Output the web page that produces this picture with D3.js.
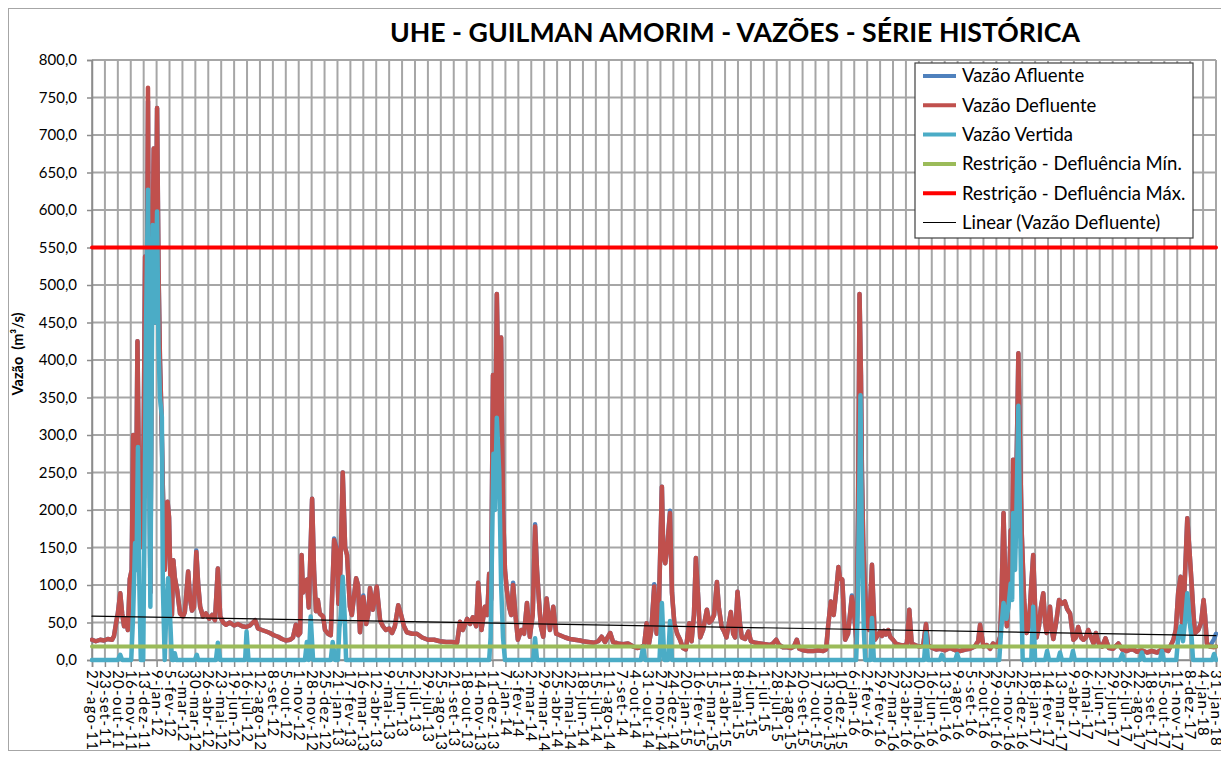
<!DOCTYPE html>
<html>
<head>
<meta charset="utf-8">
<script src="https://cdn.jsdelivr.net/npm/d3@7"></script>
<style>
  body { margin: 0; background: #fff; }
  text { font-family: Lato, "Liberation Sans", sans-serif; fill: #000; }
</style>
</head>
<body>
<div id="chart"></div>
<script>
// ---- dados ----
var inicio = "2011-08-27";
var fim = "2018-01-31";
var passoRotulos = 27;   // dias entre rótulos do eixo x
var meses = ["jan", "fev", "mar", "abr", "mai", "jun", "jul", "ago", "set", "out", "nov", "dez"];
var yTicks = [0, 50, 100, 150, 200, 250, 300, 350, 400, 450, 500, 550, 600, 650, 700, 750, 800];

var restricaoMin = 18;
var restricaoMax = 550;
var tendencia = [58.5, 32.5];   // linear (vazão defluente): início e fim

// [dia desde o início, m³/s]
var defluente = [
  [0,27],[8,25],[17,27],[25,26],[33,28],[42,27],[46,32],[50,48],[54,62],[59,89],[63,62],[67,45],[71,55],[75,40],[79,108],[83,120],[86,300],[89,160],[92,200],[95,425],[98,250],[101,150],[105,200],[108,300],[111,538],[114,400],[117,763],[120,300],[122,90],[125,462],[129,682],[132,450],[136,736],[139,520],[142,400],[145,330],[148,230],[152,120],[155,170],[158,211],[161,190],[164,100],[167,60],[170,133],[173,110],[178,93],
  [184,62],[190,58],[194,64],[201,118],[205,81],[209,66],[213,70],[218,144],[222,100],[226,71],[232,58],[238,62],[245,55],[251,60],[257,53],[263,122],[268,58],[274,50],[280,47],[288,50],[297,46],[305,48],[314,45],[322,44],[330,46],[341,53],[347,42],[355,40],[364,38],[372,36],[380,33],[389,31],[397,28],[405,26],[414,27],
  [420,30],[426,47],[431,33],[435,36],[438,140],[441,90],[445,105],[449,107],[453,70],[460,215],[464,120],[468,65],[472,80],[476,62],[483,58],[487,40],[493,35],[499,33],[506,160],[511,147],[515,75],[519,120],[524,250],[529,150],[533,140],[539,71],[543,60],[552,109],[556,100],[560,37],[567,84],[573,48],[577,60],[581,96],[587,67],[595,98],[602,53],[608,45],[614,40],[621,42],[627,36],[633,45],[640,73],[646,60],[652,45],[658,37],[669,35],[679,35],[690,30],[702,27],[715,27],[727,25],[740,24],[752,24],[763,23],[769,51],[775,40],[784,55],[790,48],[796,57],[803,45],[807,103],[814,40],[821,71],[826,60],[830,115],[834,80],[838,380],[842,250],[846,488],[851,300],[855,430],[859,200],[863,120],[867,93],[872,70],[876,60],[880,100],[885,60],[890,27],[897,40],[903,35],[909,76],[915,31],[921,60],[926,178],[930,120],[934,80],[938,45],[943,31],[950,82],[957,40],[964,71],[970,35],[978,33],[989,30],[999,28],[1009,27],[1020,26],
  [1026,25],[1037,24],[1049,23],[1058,25],[1065,31],[1072,24],[1083,36],[1089,24],[1099,22],[1110,21],[1120,22],[1131,18],[1139,16],[1147,17],[1154,20],[1159,49],[1164,22],[1169,40],[1175,98],[1180,35],[1185,80],[1191,231],[1194,140],[1198,129],[1202,150],[1208,196],[1212,90],[1217,49],[1223,35],[1229,27],[1235,16],[1241,14],[1248,49],[1253,25],[1258,60],[1262,136],[1267,80],[1271,30],[1277,40],[1285,67],[1290,50],[1295,53],[1300,60],[1306,104],[1310,70],[1316,44],[1321,38],[1326,30],[1335,64],[1340,35],[1344,30],[1349,91],[1354,50],[1358,30],[1365,28],[1372,38],[1377,25],[1386,23],[1396,22],[1407,21],[1417,20],[1423,22],[1430,27],[1436,20],[1444,17],[1453,17],[1461,16],[1467,18],[1473,27],[1478,15],[1486,13],[1496,12],[1507,12],[1517,13],[1528,12],[1534,14],[1539,49],[1544,78],[1550,60],[1555,90],[1560,124],[1563,110],[1568,107],[1574,27],[1580,35],[1588,84],[1593,60],[1598,22],[1601,200],[1604,488],[1607,380],[1609,250],[1612,149],[1615,100],[1619,53],[1624,40],[1630,127],[1636,27],
  [1642,33],[1647,38],[1651,32],[1655,39],[1659,34],[1664,40],[1668,31],[1674,27],[1680,22],[1689,20],[1697,19],[1703,22],[1708,67],[1713,22],[1720,20],[1728,18],[1737,19],[1743,48],[1747,20],[1756,16],[1764,14],[1772,15],[1783,13],[1793,16],[1804,13],[1814,12],[1825,14],[1835,15],[1845,18],[1852,25],[1856,47],[1863,18],[1870,20],[1877,15],[1883,22],[1891,18],[1898,31],[1901,90],[1905,196],[1908,120],[1912,45],[1915,80],[1920,173],[1923,140],[1925,267],[1929,150],[1932,250],[1936,409],[1939,300],[1943,169],[1948,80],[1953,36],[1958,45],[1962,90],[1967,140],[1971,70],[1974,30],[1979,45],[1983,70],[1988,89],[1992,50],[1995,36],[1999,50],[2002,71],[2006,40],[2009,28],[2015,50],[2021,80],[2027,75],[2033,78],[2038,68],[2044,62],[2051,27],[2056,30],[2061,44],[2067,30],[2072,27],[2077,30],[2082,40],[2088,30],[2093,22],[2098,36],[2104,22],[2111,18],[2118,29],[2125,16],[2134,15],[2145,22],[2153,14],[2163,12],[2174,15],[2184,11],[2194,13],[2205,10],[2215,12],[2226,10],[2238,15],[2249,12],[2260,27],[2265,40],[2270,90],[2275,111],[2277,60],[2280,40],[2284,110],[2289,189],[2293,151],[2298,102],[2302,60],[2305,36],[2312,40],[2318,50],[2323,80],[2326,60],[2330,22],[2336,18],[2345,17],[2349,18]
];

var afluente = [
  [0,27],[8,25],[17,27],[25,26],[33,28],[42,27],[46,32],[50,48],[54,62],[59,89],[63,62],[67,45],[71,55],[75,40],[79,108],[83,120],[86,300],[89,160],[92,200],[95,425],[98,250],[101,150],[105,200],[108,300],[111,538],[114,400],[117,745],[120,300],[122,90],[125,462],[129,682],[132,450],[136,736],[139,520],[142,400],[145,330],[148,230],[152,120],[155,170],[158,211],[161,190],[164,100],[167,60],[170,133],[173,110],[178,93],
  [184,62],[190,58],[194,64],[201,118],[205,81],[209,66],[213,70],[218,146],[222,100],[226,71],[232,58],[238,62],[245,55],[251,60],[257,53],[263,122],[268,58],[274,50],[280,47],[288,50],[297,46],[305,48],[314,45],[322,44],[330,46],[341,53],[347,42],[355,40],[364,38],[372,36],[380,33],[389,31],[397,28],[405,26],[414,27],
  [420,30],[426,47],[431,33],[435,36],[438,140],[441,90],[445,105],[449,107],[453,70],[460,215],[464,120],[468,65],[472,80],[476,62],[483,58],[487,40],[493,35],[499,33],[506,162],[511,150],[515,75],[519,120],[524,250],[529,150],[533,140],[539,71],[543,60],[552,109],[556,100],[560,37],[567,86],[573,48],[577,60],[581,96],[587,67],[595,98],[602,53],[608,45],[614,40],[621,42],[627,36],[633,45],[640,73],[646,60],[652,45],[658,37],[669,35],[679,35],[690,30],[702,27],[715,27],[727,25],[740,24],[752,24],[763,23],[769,51],[775,40],[784,55],[790,48],[796,57],[803,45],[807,103],[814,40],[821,71],[826,60],[830,115],[834,80],[838,380],[842,250],[846,488],[851,300],[855,430],[859,200],[863,120],[867,93],[872,70],[876,60],[880,103],[885,60],[890,27],[897,40],[903,35],[909,76],[915,31],[921,60],[926,181],[930,120],[934,80],[938,45],[943,31],[950,82],[957,40],[964,71],[970,35],[978,33],[989,30],[999,28],[1009,27],[1020,26],
  [1026,25],[1037,24],[1049,23],[1058,25],[1065,31],[1072,24],[1083,36],[1089,24],[1099,22],[1110,21],[1120,22],[1131,18],[1139,16],[1147,17],[1154,20],[1159,49],[1164,22],[1169,40],[1175,101],[1180,35],[1185,80],[1191,231],[1194,140],[1198,129],[1202,150],[1208,199],[1212,90],[1217,49],[1223,35],[1229,27],[1235,16],[1241,14],[1248,49],[1253,25],[1258,60],[1262,136],[1267,80],[1271,30],[1277,40],[1285,67],[1290,50],[1295,53],[1300,60],[1306,104],[1310,70],[1316,44],[1321,38],[1326,30],[1335,64],[1340,35],[1344,30],[1349,91],[1354,50],[1358,30],[1365,28],[1372,38],[1377,25],[1386,23],[1396,22],[1407,21],[1417,20],[1423,22],[1430,27],[1436,20],[1444,17],[1453,17],[1461,16],[1467,18],[1473,27],[1478,15],[1486,13],[1496,12],[1507,12],[1517,13],[1528,12],[1534,14],[1539,49],[1544,78],[1550,60],[1555,90],[1560,124],[1563,110],[1568,107],[1574,27],[1580,35],[1588,86],[1593,60],[1598,22],[1601,200],[1604,488],[1607,380],[1609,250],[1612,149],[1615,100],[1619,53],[1624,40],[1630,127],[1636,27],
  [1642,33],[1647,38],[1651,32],[1655,39],[1659,34],[1664,40],[1668,31],[1674,27],[1680,22],[1689,20],[1697,19],[1703,22],[1708,67],[1713,22],[1720,20],[1728,18],[1737,19],[1743,48],[1747,20],[1756,16],[1764,14],[1772,15],[1783,13],[1793,16],[1804,13],[1814,12],[1825,14],[1835,15],[1845,18],[1852,25],[1856,47],[1863,18],[1870,20],[1877,15],[1883,22],[1891,18],[1898,31],[1901,90],[1905,196],[1908,120],[1912,45],[1915,80],[1920,173],[1923,140],[1925,267],[1929,150],[1932,250],[1936,409],[1939,300],[1943,169],[1948,80],[1953,36],[1958,45],[1962,90],[1967,140],[1971,70],[1974,30],[1979,45],[1983,70],[1988,89],[1992,50],[1995,36],[1999,50],[2002,71],[2006,40],[2009,28],[2015,50],[2021,80],[2027,75],[2033,78],[2038,68],[2044,62],[2051,27],[2056,30],[2061,44],[2067,30],[2072,27],[2077,30],[2082,40],[2088,30],[2093,22],[2098,36],[2104,22],[2111,18],[2118,29],[2125,16],[2134,15],[2145,22],[2153,14],[2163,12],[2174,15],[2184,11],[2194,13],[2205,10],[2215,12],[2226,10],[2238,15],[2249,12],[2260,27],[2265,40],[2270,90],[2275,111],[2277,60],[2280,40],[2284,110],[2289,189],[2293,151],[2298,102],[2302,60],[2305,36],[2312,40],[2318,50],[2323,80],[2326,60],[2330,22],[2336,18],[2345,28],[2349,35]
];

var vertida = [
  [0,0],[54,0],[59,7],[63,0],[82,0],[86,60],[90,156],[93,120],[96,284],[99,100],[102,0],[107,0],[110,200],[113,450],[117,627],[119,300],[122,71],[124,300],[127,580],[132,450],[136,598],[139,420],[142,350],[146,324],[148,100],[152,0],[155,60],[159,109],[163,60],[167,0],
  [171,0],[173,9],[176,0],[215,0],[219,7],[222,0],[259,0],[263,23],[268,0],[320,0],[323,38],[327,0],
  [445,0],[449,24],[453,0],[457,58],[462,0],[499,0],[503,24],[508,0],[514,0],[517,43],[520,60],[524,111],[528,60],[531,0],
  [830,0],[833,30],[836,150],[839,275],[842,200],[846,323],[851,250],[855,100],[859,30],[863,0],[922,0],[926,29],[930,0],
  [1147,0],[1152,18],[1156,0],[1186,0],[1191,76],[1196,0],[1204,0],[1208,52],[1212,0],
  [1597,0],[1600,60],[1606,353],[1609,150],[1613,40],[1616,0],[1627,0],[1630,56],[1634,0],[1739,0],[1743,36],[1747,0],
  [1772,0],[1776,7],[1781,0],[1804,0],[1808,8],[1812,0],
  [1896,0],[1900,40],[1905,76],[1911,55],[1915,70],[1920,102],[1923,80],[1925,196],[1929,120],[1932,200],[1936,339],[1939,200],[1943,60],[1945,0],
  [1963,0],[1967,71],[1971,0],[1992,0],[1996,12],[2000,0],[2019,0],[2023,10],[2027,0],[2046,0],[2050,12],[2054,0],
  [2148,0],[2153,8],[2157,0],[2190,0],[2194,10],[2199,0],[2232,0],[2236,12],[2240,0],
  [2266,0],[2270,30],[2275,45],[2280,25],[2284,50],[2289,89],[2294,50],[2298,30],[2301,0],[2341,0],[2345,8],[2349,0]
];

// ---- layout ----
var svgWidth = 1221;
var svgHeight = 763;
var margin = { top: 60, left: 92, right: 5, bottom: 103 };
var width = svgWidth - margin.left - margin.right;   // 1124
var height = svgHeight - margin.top - margin.bottom; // 600

var parse = d3.timeParse("%Y-%m-%d");
var t0 = parse(inicio);
var t1 = parse(fim);
var dia = function (d) { return d3.timeDay.offset(t0, d); };

var svg = d3.select("#chart").append("svg")
  .attr("width", svgWidth)
  .attr("height", svgHeight);

// moldura do gráfico
svg.append("rect")
  .attr("x", 8.5).attr("y", 8.5)
  .attr("width", 1240).attr("height", 742)
  .attr("fill", "#fff")
  .attr("stroke", "#a6a6a6");

svg.append("text")
  .attr("x", 735).attr("y", 42)
  .attr("text-anchor", "middle")
  .attr("font-size", "27px")
  .attr("font-weight", "bold")
  .attr("textLength", 690)
  .attr("lengthAdjust", "spacingAndGlyphs")
  .text("UHE - GUILMAN AMORIM - VAZÕES - SÉRIE HISTÓRICA");

var chartGroup = svg.append("g")
  .attr("transform", `translate(${margin.left}, ${margin.top})`);

var xScale = d3.scaleTime().domain([t0, t1]).range([0, width]);
var yScale = d3.scaleLinear().domain([0, 800]).range([height, 0]);

var tickDates = d3.range(0, Math.round((t1 - t0) / 864e5) + 1, passoRotulos).map(dia);

// grade
chartGroup.append("g").selectAll("line")
  .data(yTicks).enter().append("line")
  .attr("x1", 0).attr("x2", width)
  .attr("y1", d => yScale(d)).attr("y2", d => yScale(d))
  .attr("stroke", "#a6a6a6").attr("stroke-width", 2);

chartGroup.append("g").selectAll("line")
  .data(tickDates).enter().append("line")
  .attr("x1", d => xScale(d)).attr("x2", d => xScale(d))
  .attr("y1", 0).attr("y2", height)
  .attr("stroke", "#a6a6a6").attr("stroke-width", 2);

// eixos
var ptBR = d3.formatLocale({ decimal: ",", thousands: ".", grouping: [3], currency: ["R$", ""] });
var fmtData = d => d.getDate() + "-" + meses[d.getMonth()] + "-" + String(d.getFullYear()).slice(2);

var xAxis = chartGroup.append("g")
  .attr("transform", `translate(0, ${height})`)
  .call(d3.axisBottom(xScale).tickValues(tickDates).tickSize(7).tickFormat(fmtData));
xAxis.selectAll("text")
  .attr("transform", "rotate(90)")
  .attr("x", 10).attr("y", 0).attr("dy", "0.36em")
  .style("text-anchor", "start")
  .style("letter-spacing", "1.3px")
  .attr("font-size", "15px");

var yAxis = chartGroup.append("g")
  .call(d3.axisLeft(yScale).tickValues(yTicks).tickSize(5).tickPadding(10).tickFormat(ptBR.format(".1f")));
yAxis.selectAll("text").attr("font-size", "15px");

[xAxis, yAxis].forEach(function (ax) {
  ax.selectAll("path, line").attr("stroke", "#8c8c8c").attr("stroke-width", 1.5);
});

svg.append("text")
  .attr("transform", "translate(23, 354) rotate(-90)")
  .attr("text-anchor", "middle")
  .attr("font-size", "14.5px")
  .attr("font-weight", "bold")
  .text("Vazão\u00a0\u00a0(m³/s)");

// séries
svg.append("clipPath").attr("id", "area")
  .append("rect").attr("x", -2).attr("y", -5).attr("width", width + 4).attr("height", height + 10);

var plot = chartGroup.append("g").attr("clip-path", "url(#area)");

var linha = d3.line()
  .x(d => xScale(dia(d[0])))
  .y(d => yScale(d[1]));

var series = [
  { nome: "Vazão Afluente", dados: afluente, cor: "#4F81BD", largura: 4.5 },
  { nome: "Vazão Defluente", dados: defluente, cor: "#C0504D", largura: 4.5 },
  { nome: "Vazão Vertida", dados: vertida, cor: "#4BACC6", largura: 4.5 },
  { nome: "Restrição - Defluência Mín.", dados: [[0, restricaoMin], [2349, restricaoMin]], cor: "#9BBB59", largura: 4 },
  { nome: "Restrição - Defluência Máx.", dados: [[0, restricaoMax], [2349, restricaoMax]], cor: "#FF0000", largura: 4 },
  { nome: "Linear (Vazão Defluente)", dados: [[0, tendencia[0]], [2349, tendencia[1]]], cor: "#000", largura: 1.2 }
];

plot.selectAll("path.serie")
  .data(series).enter().append("path")
  .attr("class", "serie")
  .attr("d", d => linha(d.dados))
  .attr("fill", "none")
  .attr("stroke", d => d.cor)
  .attr("stroke-width", d => d.largura)
  .attr("stroke-linejoin", "round")
  .attr("stroke-linecap", "round");

// legenda
var legenda = svg.append("g").attr("transform", "translate(915, 63)");
legenda.append("rect")
  .attr("width", 278).attr("height", 175)
  .attr("fill", "#fff").attr("stroke", "#404040").attr("stroke-width", 1.2);

var item = legenda.selectAll("g.item")
  .data(series).enter().append("g")
  .attr("class", "item")
  .attr("transform", (d, i) => `translate(0, ${13 + i * 29.3})`);
item.append("line")
  .attr("x1", 8).attr("x2", 41)
  .attr("stroke", d => d.cor)
  .attr("stroke-width", d => Math.min(d.largura, 4));
item.append("text")
  .attr("x", 47).attr("dy", "0.35em")
  .attr("font-size", "18.5px")
  .text(d => d.nome);
</script>
</body>
</html>
